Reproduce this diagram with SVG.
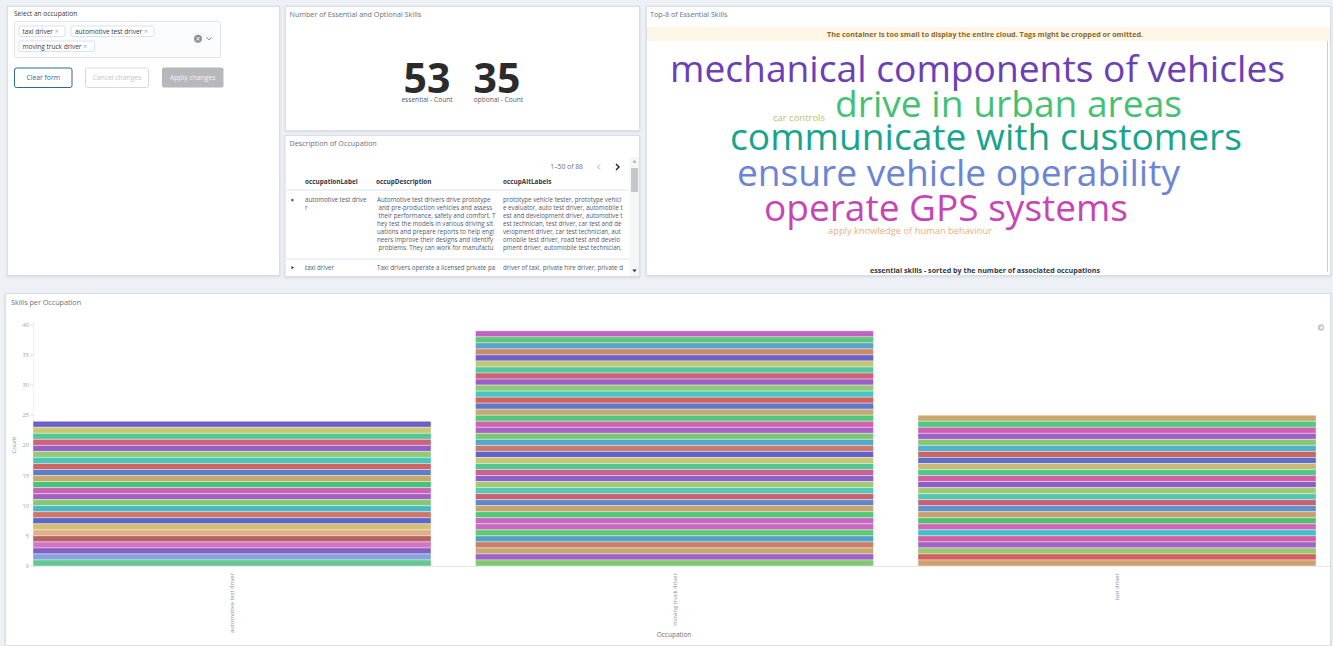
<svg xmlns="http://www.w3.org/2000/svg" width="1333" height="646" viewBox="0 0 1333 646">
<style>
text{font-family:"Open Sans","Liberation Sans",sans-serif}
.panel{fill:#ffffff;stroke:#d9dee7;stroke-width:1}
.ptitle{font-size:7.2px;fill:#69707d}
.t{font-size:6.2px;fill:#535966}
.th{font-size:6.4px;font-weight:bold;fill:#343741}
.tag{fill:#ffffff;stroke:#d3dae6;stroke-width:0.8}
.tagt{font-size:6.5px;fill:#343741}
.x{fill:#98a2b3}
.tick{font-size:5.6px;fill:#98a2b3;text-anchor:end}
.xl{font-size:5.8px;fill:#8a919e;text-anchor:end}
.s{stroke:#ffffff;stroke-width:0.7;stroke-opacity:0.55;vector-effect:non-scaling-stroke}
.w{font-size:37px}
</style>
<defs>
<filter id="sh" x="-2%" y="-2%" width="104%" height="106%"><feDropShadow dx="0" dy="0.8" stdDeviation="0.8" flood-color="#98a2b3" flood-opacity="0.35"/></filter>
</defs>
<rect x="0" y="0" width="1333" height="646" fill="#edf0f5"/>

<!-- Panel 1: filter -->
<g id="panel-filter">
<rect class="panel" x="7.5" y="6.5" width="272" height="269" filter="url(#sh)"/>
<text x="14" y="16" style="font-size:6.6px;fill:#343741">Select an occupation</text>
<rect x="14.5" y="21.5" width="206" height="36" rx="2" fill="#fbfcfd" stroke="#e1e5eb"/>
<rect class="tag" x="19" y="26" width="46" height="10.5" rx="1.5"/>
<text class="tagt" x="22.5" y="33.5">taxi driver <tspan fill="#98a2b3">×</tspan></text>
<rect class="tag" x="71" y="26" width="83" height="10.5" rx="1.5"/>
<text class="tagt" x="75" y="33.5">automotive test driver <tspan fill="#98a2b3">×</tspan></text>
<rect class="tag" x="19" y="41" width="75.5" height="10.5" rx="1.5"/>
<text class="tagt" x="22.5" y="48.5">moving truck driver <tspan fill="#98a2b3">×</tspan></text>
<circle cx="198" cy="38.8" r="4" fill="#8c939f"/>
<path d="M196.3,37.1 l3.4,3.4 M199.7,37.1 l-3.4,3.4" stroke="#ffffff" stroke-width="0.9"/>
<path d="M206.5,37.3 l2.6,2.6 l2.6,-2.6" fill="none" stroke="#69707d" stroke-width="0.9"/>
<rect x="14.5" y="68" width="57.5" height="19.5" rx="2" fill="#ffffff" stroke="#2d6b92" stroke-width="1"/>
<text x="43.2" y="80" text-anchor="middle" style="font-size:6.8px;fill:#1f6a9a">Clear form</text>
<rect x="85.5" y="68" width="63" height="19.5" rx="2" fill="#ffffff" stroke="#d6d9de" stroke-width="1"/>
<text x="117" y="80" text-anchor="middle" style="font-size:6.8px;fill:#c2c6cc">Cancel changes</text>
<rect x="162" y="67.5" width="61.5" height="20" rx="2" fill="#b6b8bb"/>
<text x="192.7" y="80" text-anchor="middle" style="font-size:6.8px;fill:#f4f4f4">Apply changes</text>
</g>

<!-- Panel 2: metric -->
<g id="panel-metric">
<rect class="panel" x="285.5" y="6.5" width="354" height="124" filter="url(#sh)"/>
<text class="ptitle" x="289.5" y="16.5">Number of Essential and Optional Skills</text>
<text x="427" y="93" text-anchor="middle" style="font-size:41px;font-weight:bold;fill:#2b2b2b">53</text>
<text x="497" y="93" text-anchor="middle" style="font-size:41px;font-weight:bold;fill:#2b2b2b">35</text>
<text x="427" y="102" text-anchor="middle" style="font-size:6.6px;fill:#535966">essential - Count</text>
<text x="498.5" y="102" text-anchor="middle" style="font-size:6.6px;fill:#535966">optional - Count</text>
</g>

<!-- Panel 3: table -->
<g id="panel-table">
<rect class="panel" x="285" y="135.5" width="354.5" height="141" filter="url(#sh)"/>
<text class="ptitle" x="289.5" y="146">Description of Occupation</text>
<text x="583" y="169" text-anchor="end" style="font-size:6.8px;fill:#69707d">1–50 of 88</text>
<path d="M600,164.5 l-2.5,2.5 l2.5,2.5" fill="none" stroke="#98a2b3" stroke-width="0.9"/>
<path d="M616,164 l3,3 l-3,3" fill="none" stroke="#1a1c21" stroke-width="1.4"/>
<rect x="629.5" y="157" width="9.5" height="119" fill="#f5f6f8"/>
<rect x="631" y="168" width="7" height="24" fill="#c5c7ca"/>
<path d="M632.5,162.5 l2,-2.5 l2,2.5 z" fill="#a0a3a8"/>
<path d="M632.3,269.5 l2.2,2.8 l2.2,-2.8 z" fill="#343741"/>
<text class="th" x="305" y="184">occupationLabel</text>
<text class="th" x="376" y="184">occupDescription</text>
<text class="th" x="503" y="184">occupAltLabels</text>
<line x1="286" y1="190" x2="629" y2="190" stroke="#d3dae6" stroke-width="0.8"/>
<path d="M291.5,198.5 l2.6,1.6 l-2.6,1.6 z" fill="#343741"/>
<text class="t" x="305" y="202">automotive test drive</text>
<text class="t" x="305" y="210">r</text>
<text class="t" x="377" y="202">Automotive test drivers drive prototype</text>
<text class="t" x="378.5" y="210">and pre-production vehicles and assess</text>
<text class="t" x="378.5" y="218">their performance, safety and comfort. T</text>
<text class="t" x="377" y="226">hey test the models in various driving sit</text>
<text class="t" x="377" y="234">uations and prepare reports to help engi</text>
<text class="t" x="377" y="242">neers improve their designs and identify</text>
<text class="t" x="378.5" y="250">problems. They can work for manufactu</text>
<text class="t" x="503" y="202">prototype vehicle tester, prototype vehicl</text>
<text class="t" x="503" y="210">e evaluator, auto test driver, automobile t</text>
<text class="t" x="503" y="218">est and development driver, automotive t</text>
<text class="t" x="503" y="226">est technician, test driver, car test and de</text>
<text class="t" x="503" y="234">velopment driver, car test technician, aut</text>
<text class="t" x="503" y="242">omobile test driver, road test and develo</text>
<text class="t" x="503" y="250">pment driver, automobile test technician,</text>
<line x1="286" y1="259" x2="629" y2="259" stroke="#d3dae6" stroke-width="0.8"/>
<path d="M291.5,266 l2.6,1.6 l-2.6,1.6 z" fill="#343741"/>
<text class="t" x="305" y="269.5">taxi driver</text>
<text class="t" x="377" y="269.5">Taxi drivers operate a licensed private pa</text>
<text class="t" x="503" y="269.5">driver of taxi, private hire driver, private d</text>
</g>

<!-- Panel 4: word cloud -->
<g id="panel-cloud">
<rect class="panel" x="646.5" y="6.5" width="684" height="269" filter="url(#sh)"/>
<text class="ptitle" x="650" y="16.5">Top-8 of Essential Skills</text>
<rect x="647" y="27" width="683" height="14" fill="#fef6e6"/>
<text x="985" y="36.5" text-anchor="middle" textLength="316" lengthAdjust="spacingAndGlyphs" style="font-size:6.5px;font-weight:bold;fill:#8a6a1f">The container is too small to display the entire cloud. Tags might be cropped or omitted.</text>
<line x1="1327.5" y1="41" x2="1327.5" y2="272" stroke="#c9ccd1" stroke-width="1"/>
<text class="w" x="670" y="82" textLength="615" lengthAdjust="spacingAndGlyphs" fill="#6a40b4">mechanical components of vehicles</text>
<text class="w" x="835" y="117" textLength="347" lengthAdjust="spacingAndGlyphs" fill="#46c174">drive in urban areas</text>
<text x="773" y="121" textLength="52" lengthAdjust="spacingAndGlyphs" style="font-size:9px;fill:#cbb86d">car controls</text>
<text class="w" x="730" y="150" textLength="512" lengthAdjust="spacingAndGlyphs" fill="#18a58e">communicate with customers</text>
<text class="w" x="737" y="186" textLength="443" lengthAdjust="spacingAndGlyphs" fill="#6b85d4">ensure vehicle operability</text>
<text class="w" x="764" y="221" textLength="364" lengthAdjust="spacingAndGlyphs" fill="#c646b6">operate GPS systems</text>
<text x="828" y="233.5" textLength="164" lengthAdjust="spacingAndGlyphs" style="font-size:9px;fill:#e4b27c">apply knowledge of human behaviour</text>
<text x="985" y="273" text-anchor="middle" textLength="230" lengthAdjust="spacingAndGlyphs" style="font-size:6.5px;font-weight:bold;fill:#343741">essential skills - sorted by the number of associated occupations</text>
</g>

<!-- Panel 5: bar chart -->
<g id="panel-chart">
<rect class="panel" x="5.5" y="293.5" width="1325" height="352" filter="url(#sh)"/>
<text class="ptitle" x="11" y="305">Skills per Occupation</text>
<line x1="33.5" y1="323" x2="33.5" y2="566" stroke="#eef0f3" stroke-width="1"/>
<line x1="33" y1="566.5" x2="1330" y2="566.5" stroke="#e3e7ed" stroke-width="1"/>
<g id="y-axis">
<text class="tick" x="29" y="326.8">40</text>
<text class="tick" x="29" y="357">35</text>
<text class="tick" x="29" y="387.1">30</text>
<text class="tick" x="29" y="417.3">25</text>
<text class="tick" x="29" y="447.4">20</text>
<text class="tick" x="29" y="477.5">15</text>
<text class="tick" x="29" y="507.7">10</text>
<text class="tick" x="29" y="537.9">5</text>
<text class="tick" x="29" y="568">0</text>
<path d="M30.5,324.8h3M30.5,354.95h3M30.5,385.1h3M30.5,415.25h3M30.5,445.4h3M30.5,475.55h3M30.5,505.7h3M30.5,535.85h3M30.5,566h3" stroke="#c9ced6" stroke-width="0.6"/>
<text x="0" y="0" transform="translate(15.5,445) rotate(-90)" text-anchor="middle" style="font-size:6px;fill:#8a919e">Count</text>
</g>
<g id="bar-automotive" transform="translate(33,566) scale(1,6.03)">
<rect class="s" x="0" y="-24" width="398" height="1" fill="#6b62c9"/>
<rect class="s" x="0" y="-23" width="398" height="1" fill="#c8c872"/>
<rect class="s" x="0" y="-22" width="398" height="1" fill="#52c892"/>
<rect class="s" x="0" y="-21" width="398" height="1" fill="#d0607e"/>
<rect class="s" x="0" y="-20" width="398" height="1" fill="#9460c8"/>
<rect class="s" x="0" y="-19" width="398" height="1" fill="#94c874"/>
<rect class="s" x="0" y="-18" width="398" height="1" fill="#44c8bc"/>
<rect class="s" x="0" y="-17" width="398" height="1" fill="#d06464"/>
<rect class="s" x="0" y="-16" width="398" height="1" fill="#5c80c8"/>
<rect class="s" x="0" y="-15" width="398" height="1" fill="#c8a86c"/>
<rect class="s" x="0" y="-14" width="398" height="1" fill="#44c474"/>
<rect class="s" x="0" y="-13" width="398" height="1" fill="#cc62b4"/>
<rect class="s" x="0" y="-12" width="398" height="1" fill="#a262c4"/>
<rect class="s" x="0" y="-11" width="398" height="1" fill="#84c870"/>
<rect class="s" x="0" y="-10" width="398" height="1" fill="#48b8c8"/>
<rect class="s" x="0" y="-9" width="398" height="1" fill="#d07466"/>
<rect class="s" x="0" y="-8" width="398" height="1" fill="#5a68c8"/>
<rect class="s" x="0" y="-7" width="398" height="1" fill="#d6bf72"/>
<rect class="s" x="0" y="-6" width="398" height="1" fill="#e2b088"/>
<rect class="s" x="0" y="-5" width="398" height="1" fill="#b46262"/>
<rect class="s" x="0" y="-4" width="398" height="1" fill="#d474c4"/>
<rect class="s" x="0" y="-3" width="398" height="1" fill="#8462c4"/>
<rect class="s" x="0" y="-2" width="398" height="1" fill="#88a4dc"/>
<rect class="s" x="0" y="-1" width="398" height="1" fill="#64c894"/>
</g>
<g id="bar-moving" transform="translate(475.5,566) scale(1,6.03)">
<rect class="s" x="0" y="-39" width="398" height="1" fill="#c262c6"/>
<rect class="s" x="0" y="-38" width="398" height="1" fill="#5cc878"/>
<rect class="s" x="0" y="-37" width="398" height="1" fill="#5aa2c8"/>
<rect class="s" x="0" y="-36" width="398" height="1" fill="#c88a6a"/>
<rect class="s" x="0" y="-35" width="398" height="1" fill="#6a62c8"/>
<rect class="s" x="0" y="-34" width="398" height="1" fill="#c2c872"/>
<rect class="s" x="0" y="-33" width="398" height="1" fill="#52c8a2"/>
<rect class="s" x="0" y="-32" width="398" height="1" fill="#d06074"/>
<rect class="s" x="0" y="-31" width="398" height="1" fill="#9a5ec8"/>
<rect class="s" x="0" y="-30" width="398" height="1" fill="#92c872"/>
<rect class="s" x="0" y="-29" width="398" height="1" fill="#42c8c0"/>
<rect class="s" x="0" y="-28" width="398" height="1" fill="#d06262"/>
<rect class="s" x="0" y="-27" width="398" height="1" fill="#6078c8"/>
<rect class="s" x="0" y="-26" width="398" height="1" fill="#c8a872"/>
<rect class="s" x="0" y="-25" width="398" height="1" fill="#52c87a"/>
<rect class="s" x="0" y="-24" width="398" height="1" fill="#d062aa"/>
<rect class="s" x="0" y="-23" width="398" height="1" fill="#aa62c8"/>
<rect class="s" x="0" y="-22" width="398" height="1" fill="#7cc872"/>
<rect class="s" x="0" y="-21" width="398" height="1" fill="#52a8c8"/>
<rect class="s" x="0" y="-20" width="398" height="1" fill="#c87a70"/>
<rect class="s" x="0" y="-19" width="398" height="1" fill="#6262c8"/>
<rect class="s" x="0" y="-18" width="398" height="1" fill="#c8c872"/>
<rect class="s" x="0" y="-17" width="398" height="1" fill="#52c892"/>
<rect class="s" x="0" y="-16" width="398" height="1" fill="#c86292"/>
<rect class="s" x="0" y="-15" width="398" height="1" fill="#8a62c8"/>
<rect class="s" x="0" y="-14" width="398" height="1" fill="#a2c872"/>
<rect class="s" x="0" y="-13" width="398" height="1" fill="#52c8b2"/>
<rect class="s" x="0" y="-12" width="398" height="1" fill="#c86272"/>
<rect class="s" x="0" y="-11" width="398" height="1" fill="#6088c8"/>
<rect class="s" x="0" y="-10" width="398" height="1" fill="#c8a272"/>
<rect class="s" x="0" y="-9" width="398" height="1" fill="#52c872"/>
<rect class="s" x="0" y="-8" width="398" height="1" fill="#c868c0"/>
<rect class="s" x="0" y="-7" width="398" height="1" fill="#c868c0"/>
<rect class="s" x="0" y="-6" width="398" height="1" fill="#62c872"/>
<rect class="s" x="0" y="-5" width="398" height="1" fill="#52a2c8"/>
<rect class="s" x="0" y="-4" width="398" height="1" fill="#c88068"/>
<rect class="s" x="0" y="-3" width="398" height="1" fill="#c8a872"/>
<rect class="s" x="0" y="-2" width="398" height="1" fill="#9a62c8"/>
<rect class="s" x="0" y="-1" width="398" height="1" fill="#82c872"/>
</g>
<g id="bar-taxi" transform="translate(918,566) scale(1,6.03)">
<rect class="s" x="0" y="-25" width="398" height="1" fill="#c8a86c"/>
<rect class="s" x="0" y="-24" width="398" height="1" fill="#50c880"/>
<rect class="s" x="0" y="-23" width="398" height="1" fill="#d060b0"/>
<rect class="s" x="0" y="-22" width="398" height="1" fill="#9e60c8"/>
<rect class="s" x="0" y="-21" width="398" height="1" fill="#88c870"/>
<rect class="s" x="0" y="-20" width="398" height="1" fill="#50b0c8"/>
<rect class="s" x="0" y="-19" width="398" height="1" fill="#c86464"/>
<rect class="s" x="0" y="-18" width="398" height="1" fill="#5c70c8"/>
<rect class="s" x="0" y="-17" width="398" height="1" fill="#c8b870"/>
<rect class="s" x="0" y="-16" width="398" height="1" fill="#50c888"/>
<rect class="s" x="0" y="-15" width="398" height="1" fill="#d060a0"/>
<rect class="s" x="0" y="-14" width="398" height="1" fill="#8c5cc8"/>
<rect class="s" x="0" y="-13" width="398" height="1" fill="#a0c870"/>
<rect class="s" x="0" y="-12" width="398" height="1" fill="#50c8b0"/>
<rect class="s" x="0" y="-11" width="398" height="1" fill="#c86078"/>
<rect class="s" x="0" y="-10" width="398" height="1" fill="#6090c8"/>
<rect class="s" x="0" y="-9" width="398" height="1" fill="#c8a070"/>
<rect class="s" x="0" y="-8" width="398" height="1" fill="#50c070"/>
<rect class="s" x="0" y="-7" width="398" height="1" fill="#d064b8"/>
<rect class="s" x="0" y="-6" width="398" height="1" fill="#44c0c8"/>
<rect class="s" x="0" y="-5" width="398" height="1" fill="#d060a0"/>
<rect class="s" x="0" y="-4" width="398" height="1" fill="#a064c8"/>
<rect class="s" x="0" y="-3" width="398" height="1" fill="#98c870"/>
<rect class="s" x="0" y="-2" width="398" height="1" fill="#d06060"/>
<rect class="s" x="0" y="-1" width="398" height="1" fill="#d0a070"/>
</g>
<g id="x-axis">
<text class="xl" x="0" y="0" transform="translate(234,573) rotate(-90)">automotive test driver</text>
<text class="xl" x="0" y="0" transform="translate(676.5,573) rotate(-90)">moving truck driver</text>
<text class="xl" x="0" y="0" transform="translate(1119,573) rotate(-90)">taxi driver</text>
<text x="674" y="637" text-anchor="middle" style="font-size:6.5px;fill:#69707d">Occupation</text>
</g>
<circle cx="1321" cy="327.5" r="3.2" fill="#c2c6cd"/>
<circle cx="1321.6" cy="327.5" r="1.6" fill="#eef0f3"/>
</g>
</svg>
